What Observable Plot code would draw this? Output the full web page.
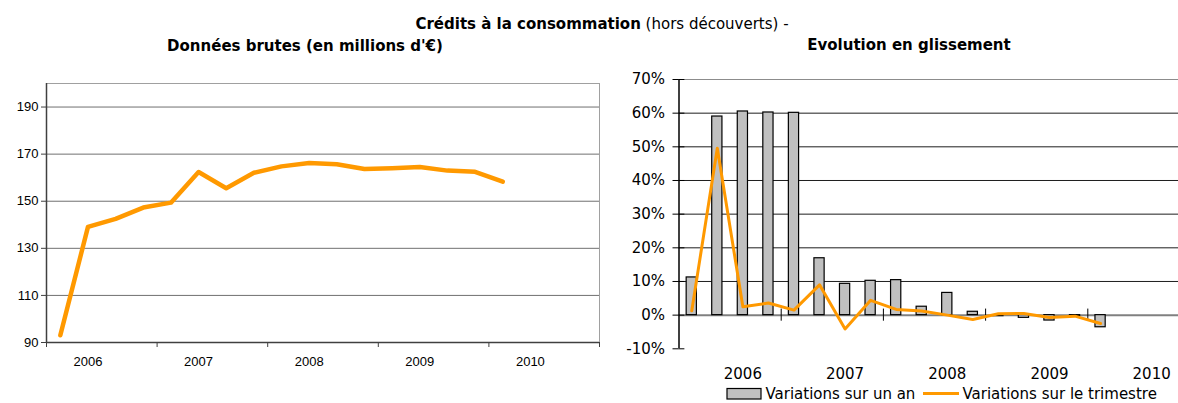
<!DOCTYPE html>
<html>
<head>
<meta charset="utf-8">
<script src="https://cdn.jsdelivr.net/npm/d3@7"></script>
<script src="https://cdn.jsdelivr.net/npm/@observablehq/plot@0.6"></script>
<style>
  html, body { margin: 0; padding: 0; background: #fff; }
  body { width: 1178px; height: 403px; overflow: hidden; position: relative; }
  .abs { position: absolute; }
  #overlay { position: absolute; left: 0; top: 0; pointer-events: none; }
</style>
</head>
<body>
<div id="left" class="abs" style="left:0;top:0"></div>
<div id="right" class="abs" style="left:600px;top:0"></div>
<svg id="overlay" width="1178" height="403"></svg>
<script>
// ---- data ----
const years = ["2006", "2007", "2008", "2009", "2010"];
// Données brutes (millions d'€), quarterly
const encours = [93.1, 139.1, 142.5, 147.3, 149.4, 162.4, 155.5, 162.1, 164.8, 166.2, 165.7, 163.7, 164.0, 164.5, 163.0, 162.5, 158.3];
// Variations sur un an (%)
const varAn = [11.2, 59.0, 60.5, 60.2, 60.1, 16.9, 9.3, 10.2, 10.4, 2.5, 6.6, 1.0, -0.3, -0.8, -1.6, -0.3, -3.6];
// Variations sur le trimestre (%)
const varTrim = [1.3, 49.6, 2.5, 3.6, 1.5, 9.0, -4.1, 4.4, 1.7, 1.2, 0.0, -1.3, 0.4, 0.5, -0.7, -0.3, -2.5];
const leftYTicks = [90, 110, 130, 150, 170, 190];
const leftGrid = [110, 130, 150, 170, 190];
const rightYTicks = [-10, 0, 10, 20, 30, 40, 50, 60, 70];
const rightGrid = [10, 20, 30, 40, 50, 60];

const ORANGE = "#FF9900";
const idx = (d, i) => i;
const val = d => d;

// ---- left chart ----
const leftYearTicks = [...years.keys(), years.length].map(k => 4 * k - 0.5);
const leftLabelPos = years.map((_, k) => 4 * k + 1);

const left = Plot.plot({
  width: 600, height: 380,
  marginLeft: 46, marginRight: 1, marginTop: 83, marginBottom: 38,
  style: { fontFamily: "Liberation Sans, Arial, sans-serif", fontSize: "13px", color: "#000", background: "transparent", overflow: "visible" },
  x: { domain: [-0.5, 19.5], axis: null },
  y: { domain: [90, 200], axis: null },
  marks: [
    Plot.frame({ stroke: "#a0a0a0" }),
    Plot.ruleY(leftGrid, { stroke: "#707070" }),
    Plot.ruleY([90], { stroke: "#404040", strokeWidth: 1.5 }),
    Plot.ruleX([-0.5], { stroke: "#404040", strokeWidth: 1.5 }),
    Plot.axisY(leftYTicks, { tickSize: 5, tickPadding: 3, stroke: "#404040", fill: "#000", fontSize: 13 }),
    Plot.axisX(leftYearTicks, { tickSize: 5, stroke: "#404040", tickFormat: () => "" }),
    Plot.axisX(leftLabelPos, { tickSize: 0, tickPadding: 14, fill: "#000", fontSize: 13, tickFormat: d => years[(d - 1) / 4] }),
    Plot.line(encours, { x: idx, y: val, stroke: ORANGE, strokeWidth: 4.5, strokeLinejoin: "round", strokeLinecap: "round" })
  ]
});
document.getElementById("left").append(left);

// ---- right chart ----
const rightYearTicks = [1, 2, 3, 4].map(k => 4 * k - 0.5);
const rightLabelPos = years.map((_, k) => 4 * k + 2);

const right = Plot.plot({
  width: 578, height: 385,
  marginLeft: 78.5, marginRight: 0, marginTop: 79, marginBottom: 36.7,
  style: { fontFamily: "DejaVu Sans, Verdana, sans-serif", fontSize: "15px", color: "#000", background: "transparent", overflow: "visible" },
  x: { domain: [-0.5, 19.05], axis: null },
  y: { domain: [-10, 70], axis: null },
  marks: [
    Plot.ruleY(rightGrid, { stroke: "#1e1e1e" }),
    Plot.ruleY([70], { stroke: "#8c8c8c" }),
    Plot.ruleY([0], { stroke: "#808080", strokeWidth: 2 }),
    Plot.rect(varAn, { x1: (d, i) => i - 0.2, x2: (d, i) => i + 0.2, y1: 0, y2: val, fill: "#c0c0c0", stroke: "#000", strokeWidth: 1.2 }),
    Plot.ruleX(rightYearTicks, { y1: -1.8, y2: 1.8, stroke: "#000" }),
    Plot.ruleX([-0.5], { stroke: "#000", strokeWidth: 1.5 }),
    Plot.axisY(rightYTicks, { tickSize: 6, tickPadding: 8, stroke: "#000", fill: "#000", fontSize: 15, tickFormat: d => d + "%" }),
    Plot.ruleY(rightYTicks, { x1: -0.5, x2: -0.27, stroke: "#000" }),
    Plot.axisX(rightLabelPos, { tickSize: 0, tickPadding: 20, fill: "#000", fontSize: 15, tickFormat: d => years[(d - 2) / 4] }),
    Plot.line(varTrim, { x: idx, y: val, stroke: ORANGE, strokeWidth: 3, strokeLinejoin: "round" })
  ]
});
document.getElementById("right").append(right);

// ---- titles & legend ----
const ov = d3.select("#overlay");
const sans = "DejaVu Sans, Verdana, sans-serif";
const t = ov.append("text").attr("x", 602).attr("y", 29).attr("text-anchor", "middle")
  .attr("font-family", sans).attr("font-size", 15);
t.append("tspan").attr("font-weight", "bold").text("Crédits à la consommation");
t.append("tspan").text(" (hors découverts) -");
ov.append("text").attr("x", 305).attr("y", 50.5).attr("text-anchor", "middle")
  .attr("font-family", sans).attr("font-size", 15).attr("font-weight", "bold")
  .text("Données brutes (en millions d'€)");
ov.append("text").attr("x", 909).attr("y", 50).attr("text-anchor", "middle")
  .attr("font-family", sans).attr("font-size", 15).attr("font-weight", "bold")
  .text("Evolution en glissement");

const lg = ov.append("g").attr("font-family", sans).attr("font-size", 15);
lg.append("rect").attr("x", 727).attr("y", 388.5).attr("width", 34).attr("height", 10.5)
  .attr("fill", "#c0c0c0").attr("stroke", "#000").attr("stroke-width", 1.2);
lg.append("text").attr("x", 765.5).attr("y", 399).text("Variations sur un an");
lg.append("line").attr("x1", 923).attr("x2", 959).attr("y1", 393.5).attr("y2", 393.5)
  .attr("stroke", ORANGE).attr("stroke-width", 3);
lg.append("text").attr("x", 962.5).attr("y", 399).text("Variations sur le trimestre");
</script>
</body>
</html>
